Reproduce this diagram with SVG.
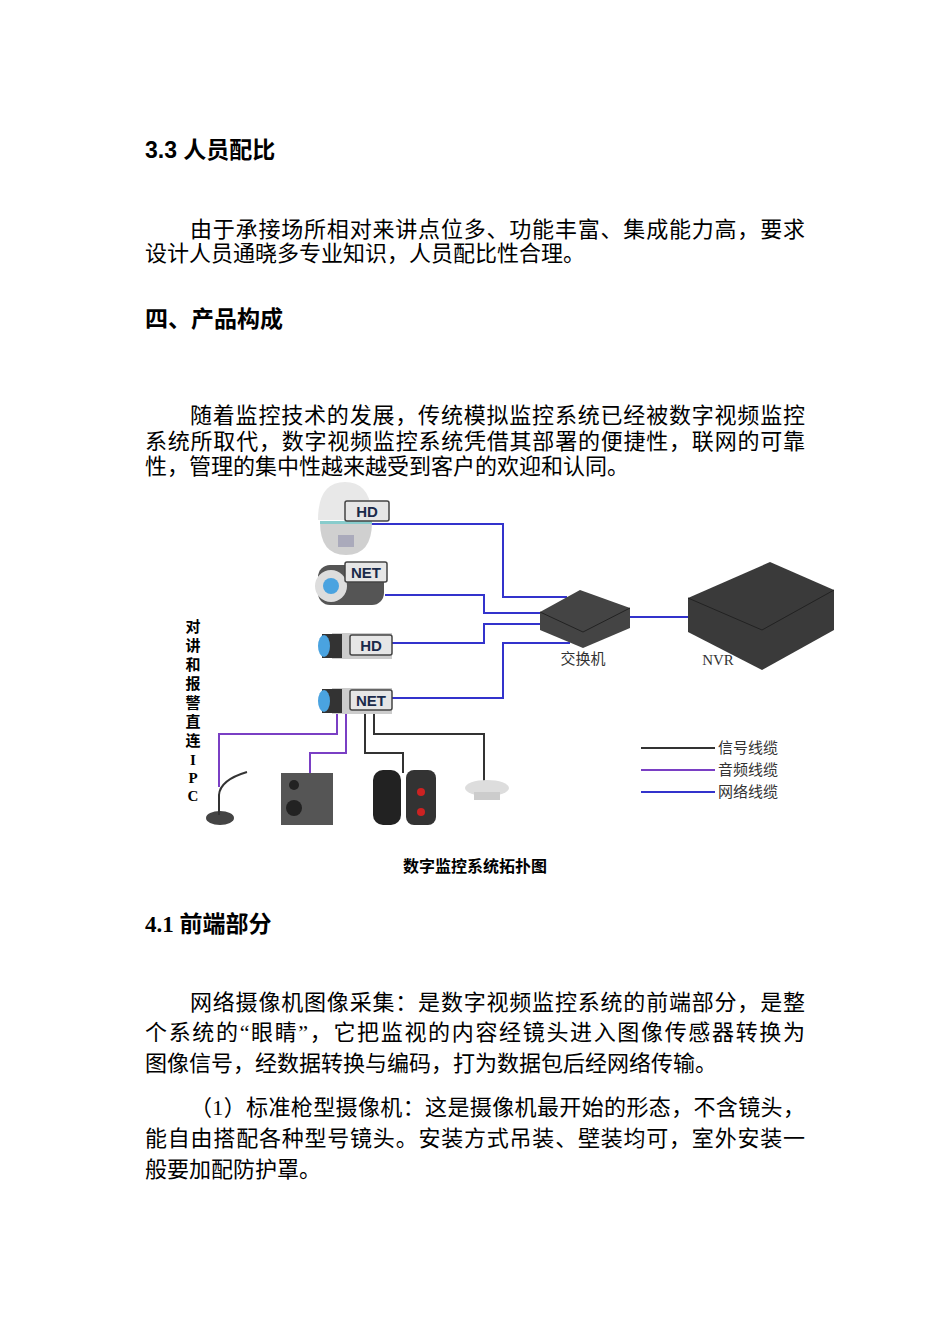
<svg xmlns="http://www.w3.org/2000/svg" width="950" height="1344" viewBox="0 0 950 1344">
<style>
.b{font-family:"Liberation Serif","Noto Sans CJK SC",serif;font-size:22px;fill:#000}
.h{font-family:"Liberation Serif","Noto Sans CJK SC",serif;font-size:23px;font-weight:bold;fill:#000}
.net{fill:none;stroke:#3333cc;stroke-width:2}
.aud{fill:none;stroke:#7a3fc4;stroke-width:2}
.sig{fill:none;stroke:#333;stroke-width:2}
.tag{fill:#e6e6e6;stroke:#444;stroke-width:1.5}
.tt{font-family:"Liberation Sans",sans-serif;font-weight:bold;font-size:15px;fill:#1a2a4a}
.lg{font-family:"Noto Sans CJK SC",sans-serif;font-size:15px;fill:#333}
.v{font-family:"Liberation Serif","Noto Sans CJK SC",serif;font-size:15px;font-weight:bold;text-anchor:middle}
</style>
<rect width="950" height="1344" fill="#fff"/>
<text x="145" y="158" class="h" style="font-family:'Liberation Sans','Noto Sans CJK SC',sans-serif">3.3 人员配比</text>
<text x="190" y="237" class="b" textLength="615">由于承接场所相对来讲点位多、功能丰富、集成能力高，要求</text>
<text x="145" y="261" class="b">设计人员通晓多专业知识，人员配比性合理。</text>
<text x="145" y="327" class="h">四、产品构成</text>
<text x="190" y="423" class="b" textLength="615">随着监控技术的发展，传统模拟监控系统已经被数字视频监控</text>
<text x="145" y="449" class="b" textLength="660">系统所取代，数字视频监控系统凭借其部署的便捷性，联网的可靠</text>
<text x="145" y="474" class="b">性，管理的集中性越来越受到客户的欢迎和认同。</text>

<g id="connectors">
<path class="net" d="M370 524H503V597H567"/>
<path class="net" d="M385 595H484V613H545"/>
<path class="net" d="M392 643H484V624H545"/>
<path class="net" d="M392 698H503V643H570"/>
<path class="net" d="M630 617H688"/>
<path class="aud" d="M337 713V734H219V787"/>
<path class="aud" d="M346 713V753H310V773"/>
<path class="sig" d="M365 700V753H403V773"/>
<path class="sig" d="M374 700V734H484V783"/>
<path class="sig" d="M641 748H715"/>
<path class="aud" d="M641 770H715"/>
<path class="net" d="M641 792H715"/>
</g>
<g id="dome">
<path d="M318 520Q318 482 345 482Q372 482 372 520Z" fill="#e8e8e8"/>
<path d="M320 522H372Q372 555 346 555Q320 555 320 522Z" fill="#d0d0d0"/>
<rect x="320" y="521" width="52" height="3" fill="#8cc"/>
<rect x="338" y="535" width="16" height="12" fill="#aab"/>
<rect x="345" y="501" width="44" height="20" rx="2" class="tag"/><text x="367" y="517" class="tt" text-anchor="middle">HD</text>
</g>
<g id="bullet">
<rect x="318" y="565" width="66" height="40" rx="12" fill="#555"/>
<circle cx="331" cy="586" r="16" fill="#ddd"/><circle cx="331" cy="586" r="8" fill="#4aa3e0"/>
<rect x="345" y="562" width="42" height="20" rx="2" class="tag"/><text x="366" y="578" class="tt" text-anchor="middle">NET</text>
</g>
<g id="boxhd">
<rect x="332" y="633" width="60" height="26" fill="#ccc"/><rect x="322" y="634" width="20" height="24" fill="#333"/>
<ellipse cx="324" cy="646" rx="6" ry="11" fill="#4aa3e0"/>
<rect x="350" y="635" width="42" height="20" rx="2" class="tag"/><text x="371" y="651" class="tt" text-anchor="middle">HD</text>
</g>
<g id="boxnet">
<rect x="332" y="688" width="60" height="26" fill="#ccc"/><rect x="322" y="689" width="20" height="24" fill="#333"/>
<ellipse cx="324" cy="701" rx="6" ry="11" fill="#4aa3e0"/>
<rect x="350" y="690" width="42" height="20" rx="2" class="tag"/><text x="371" y="706" class="tt" text-anchor="middle">NET</text>
</g>
<g id="switch">
<path d="M540 612L580 590L630 608L630 628L583 648L540 630Z" fill="#444"/>
<path d="M540 612L583 632L630 608" fill="none" stroke="#222"/>
<text x="583" y="664" class="lg" text-anchor="middle">交换机</text>
</g>
<g id="nvr">
<path d="M688 598L770 562L834 590L834 630L762 670L688 632Z" fill="#3a3a3a"/>
<path d="M688 598L762 630L834 590" fill="none" stroke="#222"/>
<text x="718" y="665" font-family="Liberation Serif,serif" font-size="15" fill="#333" text-anchor="middle">NVR</text>
</g>
<g id="label">
<text class="v" x="193" y="632">对</text><text class="v" x="193" y="651">讲</text><text class="v" x="193" y="670">和</text><text class="v" x="193" y="689">报</text><text class="v" x="193" y="708">警</text><text class="v" x="193" y="727">直</text><text class="v" x="193" y="746">连</text><text class="v" x="193" y="765">I</text><text class="v" x="193" y="783">P</text><text class="v" x="193" y="801">C</text>
</g>
<g id="mic"><ellipse cx="220" cy="818" rx="14" ry="7" fill="#444"/><path d="M219 815V795Q220 780 247 772" stroke="#333" stroke-width="2" fill="none"/></g>
<g id="speaker"><rect x="281" y="773" width="52" height="52" fill="#555"/><circle cx="294" cy="785" r="5" fill="#222"/><circle cx="294" cy="808" r="8" fill="#222"/></g>
<g id="beam"><rect x="373" y="770" width="28" height="55" rx="10" fill="#222"/><rect x="406" y="770" width="30" height="55" rx="8" fill="#333"/><circle cx="421" cy="792" r="4" fill="#c22"/><circle cx="421" cy="812" r="4" fill="#c22"/></g>
<g id="smoke"><ellipse cx="487" cy="788" rx="22" ry="8" fill="#ddd"/><rect x="474" y="792" width="26" height="8" fill="#ccc"/></g>
<g id="legend"><text x="718" y="753" class="lg">信号线缆</text><text x="718" y="775" class="lg">音频线缆</text><text x="718" y="797" class="lg">网络线缆</text></g>

<text x="475" y="872" text-anchor="middle" font-family="Liberation Serif,'Noto Sans CJK SC',serif" font-size="16" font-weight="bold">数字监控系统拓扑图</text>
<text x="145" y="932" class="h">4.1 前端部分</text>
<text x="190" y="1010" class="b" textLength="615">网络摄像机图像采集：是数字视频监控系统的前端部分，是整</text>
<text x="145" y="1040" class="b" textLength="660">个系统的“眼睛”，它把监视的内容经镜头进入图像传感器转换为</text>
<text x="145" y="1071" class="b">图像信号，经数据转换与编码，打为数据包后经网络传输。</text>
<text x="190" y="1115" class="b" textLength="615">（1）标准枪型摄像机：这是摄像机最开始的形态，不含镜头，</text>
<text x="145" y="1146" class="b" textLength="660">能自由搭配各种型号镜头。安装方式吊装、壁装均可，室外安装一</text>
<text x="145" y="1177" class="b">般要加配防护罩。</text>
</svg>
